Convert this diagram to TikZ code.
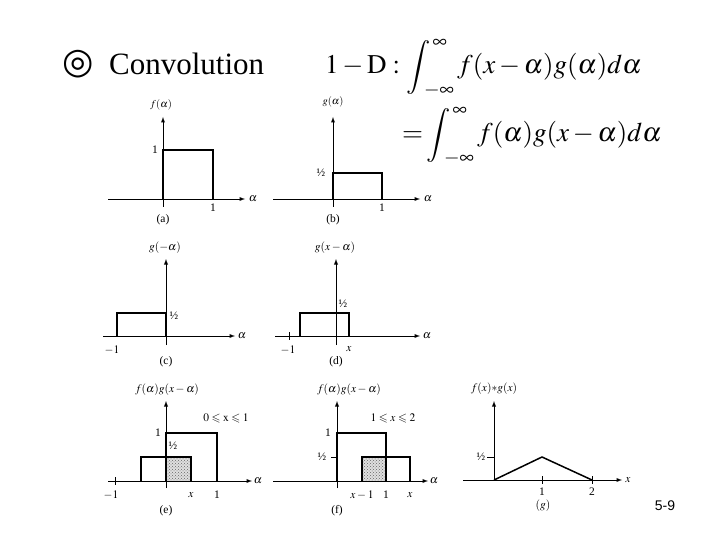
\documentclass[tikz,border=0pt]{standalone}
\usepackage{amssymb}
\usepackage{mathptmx}
\usepackage[no-math]{fontspec}
\setmainfont{Liberation Serif}
\newfontfamily\symfont{DejaVu Sans}
\newfontfamily\pagefont{Liberation Sans}
\usetikzlibrary{patterns}

\tikzset{
  axis/.style={-latex, line width=0.9pt},
  curve/.style={line width=1.8pt},
  tick/.style={line width=0.7pt},
  lbl/.style={font=\fontsize{11.5}{13}\selectfont, inner sep=1pt},
  small/.style={font=\fontsize{10.5}{12}\selectfont, inner sep=1pt},
  shade/.style={fill=gray!25, postaction={pattern=crosshatch dots, pattern color=gray!80!black}}
}

\begin{document}
\begin{tikzpicture}[x=1pt,y=-1pt]
\useasboundingbox (0,0) rectangle (720,540);

\node (mark) at (78,64) {\symfont\fontsize{36}{38}\selectfont ◎};
\node[anchor=base west, inner sep=0pt] (title) at (109,75) {\fontsize{31}{34}\selectfont Convolution};
\node[anchor=base west, inner sep=0pt] (eqone) at (325,74)
  {\fontsize{27}{30}\selectfont $1-\mathrm{D}:\displaystyle\int_{\;-\infty}^{\,\infty} f(x-\alpha)g(\alpha)d\alpha$};
\node[anchor=base west, inner sep=0pt] (eqtwo) at (402,142)
  {\fontsize{27}{30}\selectfont $=\!\displaystyle\int_{\;-\infty}^{\,\infty} f(\alpha)g(x-\alpha)d\alpha$};

% (a)
\draw[axis] (108,199) -- (245,199);
\draw[axis] (163,207) -- (163,117);
\draw[curve] (163,199) -- (163,150) -- (213,150) -- (213,199);
\node[small] (fa) at (161,105) {$f(\alpha)$};
\node[lbl] (fa1) at (155,150) {1};
\node[lbl] (fa2) at (213,208) {1};
\node[lbl] (fa3) at (253,199) {$\alpha$};
\node[lbl] (capa) at (163,220) {(a)};

% (b)
\draw[axis] (273,199) -- (420,199);
\draw[axis] (333,207) -- (333,117);
\draw[curve] (333,199) -- (333,173) -- (382,173) -- (382,199);
\node[small] (gb) at (333,102) {$g(\alpha)$};
\node[lbl] (gb1) at (321,173) {\textonehalf};
\node[lbl] (gb2) at (382,208) {1};
\node[lbl] (gb3) at (428,199) {$\alpha$};
\node[lbl] (capb) at (333,220) {(b)};

% (c)
\draw[axis] (103,336) -- (235,336);
\draw[axis] (166,345) -- (166,259);
\draw[curve] (117,336) -- (117,313) -- (166,313) -- (166,336);
\node[lbl] (gc) at (165,248) {$g(-\alpha)$};
\node[lbl] (gc1) at (174,316) {\textonehalf};
\node[lbl] (gc2) at (112,350) {$-1$};
\node[lbl] (gc3) at (242,336) {$\alpha$};
\node[lbl] (capc) at (166,362) {(c)};

% (d)
\draw[axis] (275,336) -- (420,336);
\draw[axis] (336,345) -- (336,259);
\draw[tick] (289,332) -- (289,340);
\draw[curve] (300,336) -- (300,313) -- (349,313) -- (349,336);
\node[lbl] (gd) at (335,248) {$g(x-\alpha)$};
\node[lbl] (gd1) at (343,304) {\textonehalf};
\node[lbl] (gd2) at (288,350) {$-1$};
\node[lbl] (gd3) at (349,349) {$x$};
\node[lbl] (gd4) at (427,336) {$\alpha$};
\node[lbl] (capd) at (336,362) {(d)};

% (e)
\fill[shade] (166,457) rectangle (191,481);
\draw[axis] (108,481) -- (252,481);
\draw[axis] (166,488) -- (166,401);
\draw[tick] (115,477) -- (115,485);
\draw[curve] (166,481) -- (166,433) -- (217,433) -- (217,481);
\draw[curve] (141,481) -- (141,457) -- (191,457) -- (191,481);
\node[lbl] (he) at (167,390) {$f(\alpha)g(x-\alpha)$};
\node[lbl] (he1) at (226,418) {$0\leqslant \mathrm{x}\leqslant 1$};
\node[lbl] (he2) at (158,433) {1};
\node[lbl] (he3) at (173,446) {\textonehalf};
\node[lbl] (he4) at (111,495) {$-1$};
\node[lbl] (he5) at (191,495) {$x$};
\node[lbl] (he6) at (217,495) {1};
\node[lbl] (he7) at (258,481) {$\alpha$};
\node[lbl] (cape) at (166,511) {(e)};

% (f)
\fill[shade] (362,457) rectangle (386,481);
\draw[axis] (273,481) -- (428,481);
\draw[axis] (337,488) -- (337,401);
\draw[tick] (331,457) -- (337,457);
\draw[curve] (337,481) -- (337,433) -- (386,433) -- (386,481);
\draw[curve] (362,481) -- (362,457) -- (410,457) -- (410,481);
\node[lbl] (hf) at (349,390) {$f(\alpha)g(x-\alpha)$};
\node[lbl] (hf1) at (393,418) {$1\leqslant x\leqslant 2$};
\node[lbl] (hf2) at (328,433) {1};
\node[lbl] (hf3) at (322,457) {\textonehalf};
\node[lbl] (hf4) at (362,495) {$x-1$};
\node[lbl] (hf5) at (386,495) {1};
\node[lbl] (hf6) at (410,495) {$x$};
\node[lbl] (hf7) at (434,481) {$\alpha$};
\node[lbl] (capf) at (337,511) {(f)};

% (g)
\draw[axis] (463,480) -- (622,480);
\draw[axis] (494,480) -- (494,401);
\draw[tick] (487,457) -- (494,457);
\draw[tick] (542,476) -- (542,484);
\draw[tick] (592,476) -- (592,484);
\draw[curve, line width=1.5pt] (494,480) -- (542,457) -- (592,480);
\node[lbl] (cg) at (494,389) {$f(x){*}g(x)$};
\node[lbl] (cg1) at (481,457) {\textonehalf};
\node[lbl] (cg2) at (542,492) {1};
\node[lbl] (cg3) at (592,492) {2};
\node[lbl] (cg4) at (628,480) {$x$};
\node[lbl] (capg) at (543,506) {$(g)$};

\node (page) at (665,506) {\pagefont\fontsize{14}{16}\selectfont 5-9};
\end{tikzpicture}
\end{document}
